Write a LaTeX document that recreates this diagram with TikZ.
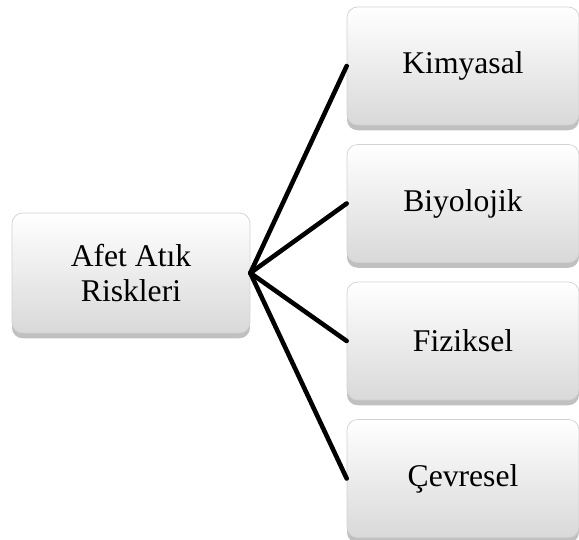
\documentclass[tikz,border=0pt]{standalone}
\usepackage{fontspec}
\setmainfont{Liberation Serif}
\usetikzlibrary{shadows}
\tikzset{
  kutu/.style={rounded corners=6pt, draw=gray!35, line width=0.4pt,
    top color=white, bottom color=gray!30, align=center,
    font=\fontsize{18}{20}\selectfont,
    drop shadow={shadow xshift=0pt, shadow yshift=-3pt, opacity=0.55, fill=gray!90}},
  baglanti/.style={line width=2.6pt, line cap=round}
}
\begin{document}
\begin{tikzpicture}[x=0.02cm,y=-0.02cm]
	\useasboundingbox (0,0) rectangle (579,540);
	\node[kutu, minimum width=4.76cm, minimum height=2.4cm] (risk) at (131,273) {Afet Atık\\Riskleri};
	\foreach \ad/\y [count=\i] in {Kimyasal/66, Biyolojik/203.5, Fiziksel/341, Çevresel/478.5}
	{
		\node[kutu, minimum width=4.64cm, minimum height=2.36cm] (tur\i) at (463,\y) {\ad};
		\draw[baglanti] (risk.east) -- (tur\i.west);
	}
\end{tikzpicture}
\end{document}
